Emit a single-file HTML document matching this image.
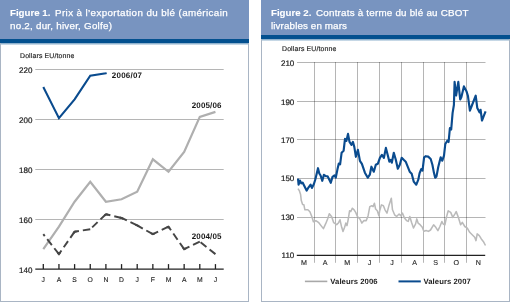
<!DOCTYPE html>
<html><head><meta charset="utf-8"><style>
html,body{margin:0;padding:0;background:#fff;}
body{width:511px;height:302px;position:relative;overflow:hidden;font-family:"Liberation Sans",sans-serif;}
.panel{position:absolute;top:0;box-sizing:border-box;border:1px solid #a9b5c4;border-top:none;background:#fff;}
.hdr{position:absolute;left:-1px;right:-1px;top:0;background:#7894c0;}
.band{position:absolute;left:-1px;right:-1px;background:#03508f;}
.fade{position:absolute;left:0;right:0;height:2px;background:linear-gradient(rgba(3,80,143,0.55),rgba(3,80,143,0.12));}
.ht{position:absolute;color:#fff;font-size:9.8px;line-height:12px;white-space:nowrap;-webkit-text-stroke:0.25px #fff;}
.hb{font-weight:bold;font-size:9.7px;letter-spacing:0px;-webkit-text-stroke:0.1px #fff;}
.ht b{font-weight:bold;}
svg{position:absolute;left:0;top:0;will-change:transform;}
.ht{will-change:transform;}
text{font-family:"Liberation Sans",sans-serif;fill:#1e1e1e;stroke:#1e1e1e;stroke-width:0.22px;text-rendering:geometricPrecision;}
.yl{font-size:8px;}
.ml{font-size:6.8px;stroke-width:0.12px;}
.mr{font-size:7.1px;}
.unit{font-size:6.9px;letter-spacing:0.15px;stroke-width:0.16px;}
.lbl{font-size:8px;font-weight:bold;letter-spacing:0.12px;stroke-width:0;fill:#1a1a1a;}
.lbl.b{font-weight:bold;stroke-width:0;letter-spacing:0.22px;}
.leg{font-size:7.7px;font-weight:bold;stroke-width:0;letter-spacing:0.06px;}
</style></head><body>
<div class="panel" style="left:0;width:249px;height:302px;">
 <div class="hdr" style="height:39px;"></div>
 <div class="band" style="top:39px;height:4px;"></div>
 <div class="fade" style="top:43px;"></div>
 <div class="ht hb" style="left:8.6px;top:6.5px;">Figure 1.</div>
 <div class="ht" style="left:53.7px;top:6.5px;letter-spacing:0.385px;">Prix à l’exportation du blé (américain</div>
 <div class="ht" style="left:8.8px;top:20.4px;letter-spacing:0.24px;">no.2, dur, hiver, Golfe)</div>
</div>
<div class="panel" style="left:261px;width:249px;height:302px;">
 <div class="hdr" style="height:35px;"></div>
 <div class="band" style="top:35px;height:4px;"></div>
 <div class="fade" style="top:39px;"></div>
 <div class="ht hb" style="left:8.8px;top:6.5px;">Figure 2.</div>
 <div class="ht" style="left:53.6px;top:6.5px;letter-spacing:0.22px;">Contrats à terme du blé au CBOT</div>
 <div class="ht" style="left:8.9px;top:20.4px;letter-spacing:0.12px;">livrables en mars</div>
</div>
<svg width="511" height="302" viewBox="0 0 511 302">
<line x1="35.3" y1="69.5" x2="223.7" y2="69.5" stroke="rgba(0,0,0,0.29)" stroke-width="1"/>
<line x1="35.3" y1="119.5" x2="223.7" y2="119.5" stroke="rgba(0,0,0,0.29)" stroke-width="1"/>
<line x1="35.3" y1="169.5" x2="223.7" y2="169.5" stroke="rgba(0,0,0,0.29)" stroke-width="1"/>
<line x1="35.3" y1="219.5" x2="223.7" y2="219.5" stroke="rgba(0,0,0,0.29)" stroke-width="1"/>
<line x1="35.3" y1="269.2" x2="223.7" y2="269.2" stroke="#222222" stroke-width="1.3"/>
<line x1="43.30" y1="264.1" x2="43.30" y2="269" stroke="#222222" stroke-width="1.3"/>
<line x1="58.95" y1="264.1" x2="58.95" y2="269" stroke="#222222" stroke-width="1.3"/>
<line x1="74.60" y1="264.1" x2="74.60" y2="269" stroke="#222222" stroke-width="1.3"/>
<line x1="90.25" y1="264.1" x2="90.25" y2="269" stroke="#222222" stroke-width="1.3"/>
<line x1="105.90" y1="264.1" x2="105.90" y2="269" stroke="#222222" stroke-width="1.3"/>
<line x1="121.55" y1="264.1" x2="121.55" y2="269" stroke="#222222" stroke-width="1.3"/>
<line x1="137.20" y1="264.1" x2="137.20" y2="269" stroke="#222222" stroke-width="1.3"/>
<line x1="152.85" y1="264.1" x2="152.85" y2="269" stroke="#222222" stroke-width="1.3"/>
<line x1="168.50" y1="264.1" x2="168.50" y2="269" stroke="#222222" stroke-width="1.3"/>
<line x1="184.15" y1="264.1" x2="184.15" y2="269" stroke="#222222" stroke-width="1.3"/>
<line x1="199.80" y1="264.1" x2="199.80" y2="269" stroke="#222222" stroke-width="1.3"/>
<line x1="215.45" y1="264.1" x2="215.45" y2="269" stroke="#222222" stroke-width="1.3"/>
<text x="32.4" y="272.6" text-anchor="end" class="yl">140</text>
<text x="32.4" y="222.7" text-anchor="end" class="yl">160</text>
<text x="32.4" y="172.8" text-anchor="end" class="yl">180</text>
<text x="32.4" y="122.9" text-anchor="end" class="yl">200</text>
<text x="32.4" y="73.0" text-anchor="end" class="yl">220</text>
<text x="43.30" y="282" text-anchor="middle" class="ml">J</text>
<text x="58.95" y="282" text-anchor="middle" class="ml">A</text>
<text x="74.60" y="282" text-anchor="middle" class="ml">S</text>
<text x="90.25" y="282" text-anchor="middle" class="ml">O</text>
<text x="105.90" y="282" text-anchor="middle" class="ml">N</text>
<text x="121.55" y="282" text-anchor="middle" class="ml">D</text>
<text x="137.20" y="282" text-anchor="middle" class="ml">J</text>
<text x="152.85" y="282" text-anchor="middle" class="ml">F</text>
<text x="168.50" y="282" text-anchor="middle" class="ml">M</text>
<text x="184.15" y="282" text-anchor="middle" class="ml">A</text>
<text x="199.80" y="282" text-anchor="middle" class="ml">M</text>
<text x="215.45" y="282" text-anchor="middle" class="ml">J</text>
<text x="20" y="58.2" class="unit">Dollars EU/tonne</text>
<polyline points="43.30,249.14 58.95,226.69 74.60,201.74 90.25,181.78 105.90,201.74 121.55,199.24 137.20,191.76 152.85,159.32 168.50,171.80 184.15,151.84 199.80,116.91 215.45,111.92" fill="none" stroke="#afafaf" stroke-width="2.2" stroke-linejoin="miter"/>
<line x1="58.95" y1="254.13" x2="43.30" y2="234.17" stroke="#454545" stroke-width="1.95" stroke-dasharray="7.5 4.0"/>
<line x1="74.60" y1="231.68" x2="58.95" y2="254.13" stroke="#454545" stroke-width="1.95" stroke-dasharray="7.5 4.0"/>
<line x1="90.25" y1="229.18" x2="74.60" y2="231.68" stroke="#454545" stroke-width="1.95" stroke-dasharray="7.5 4.0"/>
<line x1="105.90" y1="214.21" x2="90.25" y2="229.18" stroke="#454545" stroke-width="1.95" stroke-dasharray="7.5 4.0"/>
<line x1="121.55" y1="217.95" x2="105.90" y2="214.21" stroke="#454545" stroke-width="1.95" stroke-dasharray="7.5 4.0"/>
<line x1="137.20" y1="225.44" x2="121.55" y2="217.95" stroke="#454545" stroke-width="1.95" stroke-dasharray="7.5 4.0"/>
<line x1="152.85" y1="234.17" x2="137.20" y2="225.44" stroke="#454545" stroke-width="1.95" stroke-dasharray="7.5 4.0"/>
<line x1="168.50" y1="226.69" x2="152.85" y2="234.17" stroke="#454545" stroke-width="1.95" stroke-dasharray="7.5 4.0"/>
<line x1="184.15" y1="249.14" x2="168.50" y2="226.69" stroke="#454545" stroke-width="1.95" stroke-dasharray="7.5 4.0"/>
<line x1="199.80" y1="241.66" x2="184.15" y2="249.14" stroke="#454545" stroke-width="1.95" stroke-dasharray="7.5 4.0"/>
<line x1="215.45" y1="254.13" x2="199.80" y2="241.66" stroke="#454545" stroke-width="1.95" stroke-dasharray="7.5 4.0"/>
<polyline points="57.72,252.56 58.95,254.13 60.09,252.49" fill="none" stroke="#454545" stroke-width="1.95"/>
<polyline points="73.46,233.32 74.60,231.68 76.58,231.36" fill="none" stroke="#454545" stroke-width="1.95"/>
<polyline points="104.45,215.59 105.90,214.21 107.85,214.68" fill="none" stroke="#454545" stroke-width="1.95"/>
<polyline points="119.60,217.49 121.55,217.95 123.35,218.82" fill="none" stroke="#454545" stroke-width="1.95"/>
<polyline points="135.40,224.57 137.20,225.44 138.95,226.41" fill="none" stroke="#454545" stroke-width="1.95"/>
<polyline points="151.10,233.20 152.85,234.17 154.65,233.31" fill="none" stroke="#454545" stroke-width="1.95"/>
<polyline points="166.70,227.55 168.50,226.69 169.64,228.33" fill="none" stroke="#454545" stroke-width="1.95"/>
<polyline points="183.01,247.50 184.15,249.14 185.95,248.28" fill="none" stroke="#454545" stroke-width="1.95"/>
<polyline points="43.30,86.97 58.95,118.15 74.60,99.44 90.25,75.74 105.90,73.24 106.6,72.99" fill="none" stroke="#0a4b8e" stroke-width="2.1"/>
<text x="111.8" y="78.2" class="lbl b">2006/07</text>
<text x="191.8" y="107.6" class="lbl">2005/06</text>
<text x="191.8" y="239.3" class="lbl">2004/05</text>
<line x1="297" y1="62.5" x2="485.5" y2="62.5" stroke="rgba(0,0,0,0.29)" stroke-width="1"/>
<line x1="297" y1="101.5" x2="485.5" y2="101.5" stroke="rgba(0,0,0,0.29)" stroke-width="1"/>
<line x1="297" y1="139.5" x2="485.5" y2="139.5" stroke="rgba(0,0,0,0.29)" stroke-width="1"/>
<line x1="297" y1="178.5" x2="485.5" y2="178.5" stroke="rgba(0,0,0,0.29)" stroke-width="1"/>
<line x1="297" y1="217.5" x2="485.5" y2="217.5" stroke="rgba(0,0,0,0.29)" stroke-width="1"/>
<line x1="314.5" y1="62" x2="314.5" y2="262.8" stroke="rgba(0,0,0,0.29)" stroke-width="1"/>
<line x1="335.5" y1="62" x2="335.5" y2="262.8" stroke="rgba(0,0,0,0.29)" stroke-width="1"/>
<line x1="357.5" y1="62" x2="357.5" y2="262.8" stroke="rgba(0,0,0,0.29)" stroke-width="1"/>
<line x1="379.5" y1="62" x2="379.5" y2="262.8" stroke="rgba(0,0,0,0.29)" stroke-width="1"/>
<line x1="401.5" y1="62" x2="401.5" y2="262.8" stroke="rgba(0,0,0,0.29)" stroke-width="1"/>
<line x1="423.5" y1="62" x2="423.5" y2="262.8" stroke="rgba(0,0,0,0.29)" stroke-width="1"/>
<line x1="444.5" y1="62" x2="444.5" y2="262.8" stroke="rgba(0,0,0,0.29)" stroke-width="1"/>
<line x1="466.5" y1="62" x2="466.5" y2="262.8" stroke="rgba(0,0,0,0.29)" stroke-width="1"/>
<line x1="296.8" y1="255.4" x2="485.2" y2="255.4" stroke="#222222" stroke-width="1.3"/>
<text x="294.3" y="258.3" text-anchor="end" class="yl">110</text>
<text x="294.3" y="219.9" text-anchor="end" class="yl">130</text>
<text x="294.3" y="181.4" text-anchor="end" class="yl">150</text>
<text x="294.3" y="143.0" text-anchor="end" class="yl">170</text>
<text x="294.3" y="104.5" text-anchor="end" class="yl">190</text>
<text x="294.3" y="66.1" text-anchor="end" class="yl">210</text>
<text x="303.90" y="264.6" text-anchor="middle" class="ml mr">M</text>
<text x="325.10" y="264.6" text-anchor="middle" class="ml mr">A</text>
<text x="347.30" y="264.6" text-anchor="middle" class="ml mr">M</text>
<text x="369.60" y="264.6" text-anchor="middle" class="ml mr">J</text>
<text x="391.90" y="264.6" text-anchor="middle" class="ml mr">J</text>
<text x="414.70" y="264.6" text-anchor="middle" class="ml mr">A</text>
<text x="435.70" y="264.6" text-anchor="middle" class="ml mr">S</text>
<text x="456.30" y="264.6" text-anchor="middle" class="ml mr">O</text>
<text x="478.30" y="264.6" text-anchor="middle" class="ml mr">N</text>
<text x="282" y="51.4" class="unit">Dollars EU/tonne</text>
<polyline points="298,188.6 299.3,190.6 300.6,194.6 301.3,200.6 302.6,204.5 303.9,204.8 304.9,209.8 307.9,209.8 309.9,211.7 311.9,216.7 313.4,221.7 315.8,220.7 318.8,222.7 321.8,226.6 323.4,228.6 325.7,223.7 327.7,218.7 329.3,213.7 331.7,216.7 333.7,222.7 336.7,224.6 338.6,222.7 340,219.8 341.7,227.3 343,231.4 344.6,227.3 345.8,223.1 347,225.6 348.3,219 349.6,210.7 350.8,211.5 352.4,208.2 354.1,209.9 355.7,212.4 357.4,216.5 359.9,219 361.9,223.1 364,220.6 366.2,220.6 368.1,215.7 369.8,206.6 371.8,205.7 373.1,206.6 374.4,203.2 375.6,209 377.3,210.7 378.9,215.7 379.7,210.7 381.4,204.9 383.4,205.7 385,209.8 387,213.1 389.1,204.9 391.3,198.2 392.5,209.8 394.6,214.8 396.6,216.5 399.1,214 400.7,215.6 402.4,213.1 404.5,218.1 406.5,220.6 408.2,221.4 409.8,216.5 411.5,222.3 413.5,228 415.6,223.9 416.8,218.9 418.1,223.1 420.1,224.7 422.3,227.2 423.9,231.4 426.1,230.5 428.4,231.4 430.5,230 433.6,224.8 435.8,227.3 437.9,230.6 439.9,226.5 441.9,221.5 443.2,224 444.9,224.8 446.6,216.6 448.2,210.8 450.7,212.4 452.8,217.4 454.8,214.1 456.2,211.6 458.1,216.6 460.6,224.8 462.3,222.4 464.8,226.5 467.3,228.1 469.7,232.3 472.2,234.8 474.7,237.3 476,240.6 477.2,233.9 479.3,235.6 481.3,238.9 483.3,241.4 485.5,245.5" fill="none" stroke="#bababa" stroke-width="1.55" stroke-linejoin="round"/>
<polyline points="298,178.6 298.6,184.6 300,180.6 301.3,183.3 302.6,182.6 304.6,186.6 306.6,190.6 308.6,187.3 310.6,184.6 311.9,187.9 313.9,184 315.3,179.5 318,168.2 319.3,173.5 320.6,175.5 322.3,180.8 323.9,174.9 325.9,176.2 327.6,176.2 328.6,178.2 330.8,182.8 332.5,176.9 334.5,175.5 335.8,177.5 337.4,169.6 338.8,163.6 340.1,164.3 341.6,152.8 343.6,150.8 345,138.9 346.4,140.9 348,133.9 349.5,141.9 351.5,144.9 352.9,141.9 354.3,146.9 355.9,156.8 357.9,149.9 359.9,160.8 361.9,163.8 364.9,172.7 367.8,177.7 369.8,174.7 371.4,166.7 373.8,171.7 375.8,164.8 377.8,163.8 379.9,157.8 381.9,154.8 383.9,157.8 385.9,147.9 387.9,155.8 389.4,161.7 390.8,159.8 391.8,162.7 393.8,152.8 395.8,159.8 397.8,168.7 399.8,164.7 401.7,157.8 403.7,159.8 405.7,161.7 407.7,166.7 409.7,171.7 411.7,173.7 413.7,181.6 416.3,184.7 418.3,179.7 419.6,173.1 421.3,169 422.5,170.6 424.1,157.4 425.8,156.2 428.2,156.6 430.7,159 432.4,164.8 434,173.1 435.2,177.7 436.5,176.4 438.2,167.3 439.8,160.7 440.7,157.4 442.3,160.7 444,155.7 445.3,144 447.3,140.7 448.6,142 449.9,128.1 451.2,129.5 452.6,112.9 453.9,105 454.6,81.8 456.1,95.5 458.3,81.8 460.2,99.5 461.4,97 463.9,86.4 466.6,91.6 467.9,95.7 469.9,110.6 471.5,106.5 475.7,95.7 477.3,108.1 479.5,112.3 480.6,109.8 482,120.5 483.9,115.6 485.6,111.4" fill="none" stroke="#0a4b8e" stroke-width="2.15" stroke-linejoin="round"/>
<line x1="304.9" y1="281.4" x2="327.3" y2="281.4" stroke="#a8a8a8" stroke-width="1.6"/>
<text x="330.3" y="283.9" class="leg">Valeurs 2006</text>
<line x1="398.5" y1="281.4" x2="420.8" y2="281.4" stroke="#0a4b8e" stroke-width="2"/>
<text x="423.5" y="283.9" class="leg">Valeurs 2007</text>
</svg>
</body></html>
